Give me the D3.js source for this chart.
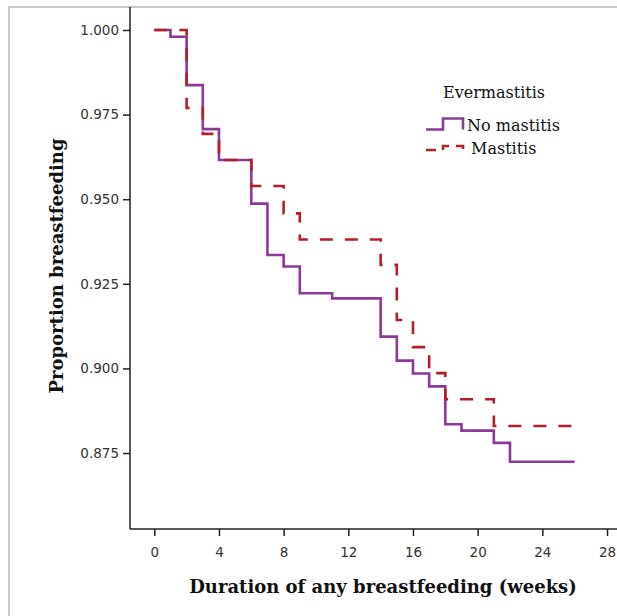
<!DOCTYPE html>
<html>
<head>
<meta charset="utf-8">
<script src="https://cdn.jsdelivr.net/npm/d3@7/dist/d3.min.js"></script>
<style>
  html, body { margin: 0; padding: 0; background: #fff; }
  svg { display: block; }
</style>
</head>
<body>
<svg id="chart" width="617" height="616"></svg>
<script>
// ---- data ----
const groups = ["No mastitis", "Mastitis"];
const weeksNoMastitis = [0, 1, 2, 3, 4, 6, 7, 8, 9, 11, 14, 15, 16, 17, 18, 19, 21, 22];
const survNoMastitis  = [1.000, 0.998, 0.9837, 0.9707, 0.9616, 0.9487, 0.9335, 0.9301, 0.9222, 0.9207, 0.9094, 0.9023, 0.8985, 0.8947, 0.8835, 0.8816, 0.8780, 0.8724];
const weeksMastitis   = [0, 2, 3, 4, 6, 8, 9, 14, 15, 16, 17, 18, 21];
const survMastitis    = [1.000, 0.977, 0.9693, 0.9616, 0.9539, 0.9458, 0.9381, 0.9306, 0.9143, 0.9063, 0.8986, 0.8909, 0.8830];
const lastWeek = 26;
const xTicks = [0, 4, 8, 12, 16, 20, 24, 28];
const yTicks = [0.875, 0.900, 0.925, 0.950, 0.975, 1.000];
const legendTitle = "Evermastitis";
const xTitle = "Duration of any breastfeeding (weeks)";
const yTitle = "Proportion breastfeeding";

// ---- layout ----
const svg = d3.select("#chart");
const axisX0 = 130, axisY0 = 529;

const x = d3.scaleLinear().domain([0, 28]).range([154.3, 607]);
const y = d3.scaleLinear().domain([0.875, 1.0]).range([453, 30]);

// outer frame (light gray)
svg.append("path")
  .attr("d", "M9,620 V7 H620")
  .attr("fill", "none").attr("stroke", "#c9c9c9").attr("stroke-width", 2);

// axes lines
svg.append("line").attr("x1", axisX0).attr("x2", axisX0).attr("y1", 7).attr("y2", axisY0)
  .attr("stroke", "#222").attr("stroke-width", 1.5);
svg.append("line").attr("x1", axisX0).attr("x2", 617).attr("y1", axisY0).attr("y2", axisY0)
  .attr("stroke", "#222").attr("stroke-width", 1.5);

// y axis
const gy = svg.append("g").attr("transform", `translate(${axisX0},0)`)
  .call(d3.axisLeft(y).tickValues(yTicks).tickSize(7).tickPadding(4).tickFormat(d3.format(".3f")));
gy.select(".domain").remove();
gy.selectAll(".tick line").attr("stroke", "#222").attr("stroke-width", 1.5);
gy.selectAll(".tick text").attr("font-family", "DejaVu Sans").attr("font-size", 13.5).attr("fill", "#333");

// x axis
const gx = svg.append("g").attr("transform", `translate(0,${axisY0})`)
  .call(d3.axisBottom(x).tickValues(xTicks).tickSize(7).tickPadding(11));
gx.select(".domain").remove();
gx.selectAll(".tick line").attr("stroke", "#222").attr("stroke-width", 1.5);
gx.selectAll(".tick text").attr("font-family", "DejaVu Sans").attr("font-size", 13.5).attr("fill", "#333");

// axis titles
svg.append("text").text(xTitle)
  .attr("x", 383).attr("y", 593).attr("text-anchor", "middle")
  .attr("font-family", "DejaVu Serif").attr("font-weight", "bold").attr("font-size", 18).attr("fill", "#111");
svg.append("text").text(yTitle)
  .attr("transform", "translate(63,266) rotate(-90)").attr("text-anchor", "middle")
  .attr("font-family", "DejaVu Serif").attr("font-weight", "bold").attr("font-size", 18).attr("fill", "#111");

// step curves
const line = d3.line().x(d => x(d[0])).y(d => y(d[1])).curve(d3.curveStepAfter);
function pts(weeks, surv) {
  const p = weeks.map((w, i) => [w, surv[i]]);
  p.push([lastWeek, surv[surv.length - 1]]);
  return p;
}
const purple = "#8c3a98", red = "#b41e28";

svg.append("path").attr("d", line(pts(weeksNoMastitis, survNoMastitis)))
  .attr("fill", "none").attr("stroke", purple).attr("stroke-width", 2.6);
svg.append("path").attr("d", line(pts(weeksMastitis, survMastitis)))
  .attr("fill", "none").attr("stroke", red).attr("stroke-width", 2.6)
  .attr("stroke-dasharray", "13,12");

// legend
const lg = svg.append("g");
lg.append("text").text(legendTitle).attr("x", 443).attr("y", 98)
  .attr("font-family", "DejaVu Serif").attr("font-size", 16).attr("fill", "#111");
lg.append("path").attr("d", "M426,129.5 H443 V118.5 H463 V129.5")
  .attr("fill", "none").attr("stroke", purple).attr("stroke-width", 2.6);
lg.append("path").attr("d", "M426,150 H443 V146 H463 V152")
  .attr("fill", "none").attr("stroke", red).attr("stroke-width", 2.6).attr("stroke-dasharray", "10,7");
lg.append("text").text(groups[0]).attr("x", 467).attr("y", 131)
  .attr("font-family", "DejaVu Serif").attr("font-size", 16).attr("fill", "#111");
lg.append("text").text(groups[1]).attr("x", 471).attr("y", 154)
  .attr("font-family", "DejaVu Serif").attr("font-size", 16).attr("fill", "#111");
</script>
</body>
</html>
